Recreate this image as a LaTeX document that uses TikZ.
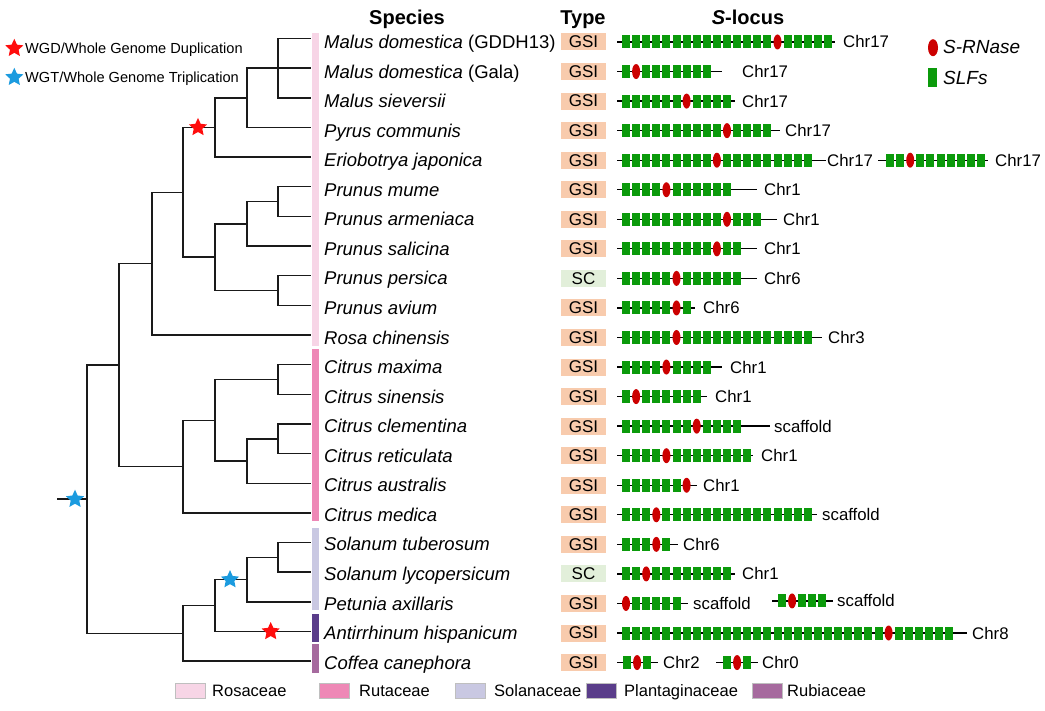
\documentclass[tikz,border=0pt]{standalone}
\usepackage{fontspec}
\setmainfont{Liberation Sans}
\usetikzlibrary{shapes.geometric}

\definecolor{slfgreen}{HTML}{0B9A0B}
\definecolor{rnasered}{HTML}{CC0000}
\definecolor{gsifill}{HTML}{F8CBAD}
\definecolor{scfill}{HTML}{E2EFDA}
\definecolor{rosaceae}{HTML}{F7D5E6}
\definecolor{rutaceae}{HTML}{EE88B6}
\definecolor{solanaceae}{HTML}{C9C8E2}
\definecolor{plantaginaceae}{HTML}{5A3D8A}
\definecolor{rubiaceae}{HTML}{A66A9E}
\definecolor{wgdred}{HTML}{FF0D0D}
\definecolor{wgtblue}{HTML}{1B9BDF}
\definecolor{treeline}{HTML}{1A1A1A}

\newcommand{\setfs}[1]{\fontsize{#1}{#1}\selectfont}

% S-locus track: name, y, line start, first element centre, SLFs before S-RNase,
% SLFs after S-RNase, line end, label x, label text
\newcommand{\locus}[9]{%
  \coordinate (#1s) at (#3,#2);
  \coordinate (#1e) at (#7,#2);
  \draw[locusline] (#1s) -- (#1e);
  \pgfmathtruncatemacro{\lastidx}{#5+#6}%
  \foreach \k in {0,...,\lastidx}{%
    \pgfmathsetmacro{\locx}{#4+\k*10.1}%
    \ifnum\k=#5\relax
      \node[srnase] at (\locx,#2) {};
    \else
      \node[slf] at (\locx,#2) {};
    \fi
  }%
  \node[chr] (#1l) at (#8,#2+6) {#9};
}

\tikzset{
  branch/.style={draw=treeline, line width=1.45pt, line cap=rect},
  species/.style={anchor=base west, inner sep=0pt, font=\setfs{18.5}\itshape},
  head/.style={anchor=base, inner sep=0pt, font=\setfs{20}\bfseries},
  typebox/.style={minimum width=45pt, minimum height=17pt, inner sep=0pt, font=\setfs{17}},
  gsi/.style={typebox, fill=gsifill},
  sc/.style={typebox, fill=scfill},
  locusline/.style={draw=black, line width=1.3pt},
  slf/.style={rectangle, fill=slfgreen, minimum width=8pt, minimum height=13pt, inner sep=0pt},
  srnase/.style={ellipse, fill=rnasered, minimum width=8pt, minimum height=15pt, inner sep=0pt},
  chr/.style={anchor=base west, inner sep=0pt, font=\setfs{16.8}},
  event/.style={star, star points=5, star point ratio=2.1, minimum size=19pt, inner sep=0pt},
  wgd/.style={event, fill=wgdred},
  wgt/.style={event, fill=wgtblue},
  swatch/.style={minimum width=30pt, minimum height=15pt, inner sep=0pt, draw=black!25, line width=0.4pt, anchor=west},
  famlabel/.style={anchor=base west, inner sep=0pt, font=\setfs{16.5}},
  keytext/.style={anchor=base west, inner sep=0pt, font=\setfs{14.6}},
}

\begin{document}
\begin{tikzpicture}[x=1pt,y=-1pt]
\useasboundingbox (0,0) rectangle (1045,711);
\fill[white] (0,0) rectangle (1045,711);

% ---------- column headers ----------
\node[head] (hsp) at (407,25) {Species};
\node[head] (hty) at (583,25) {Type};
\node[head] (hsl) at (748,25) {\textit{S}-locus};

% ---------- event key ----------
\node[wgd] (kwgd) at (14.3,48.3) {};
\node[keytext] (kwgdt) at (25,53.5) {WGD/Whole Genome Duplication};
\node[wgt] (kwgt) at (14.3,77.3) {};
\node[keytext] (kwgtt) at (25,82.5) {WGT/Whole Genome Triplication};

% ---------- gene key ----------
\node[srnase, minimum width=10pt, minimum height=17pt] (krn) at (933,47.7) {};
\node[anchor=base west, inner sep=0pt, font=\setfs{19}\itshape] (krnt) at (943,54) {S-RNase};
\node[slf, minimum width=9pt, minimum height=19pt] (kslf) at (932.5,77.5) {};
\node[anchor=base west, inner sep=0pt, font=\setfs{19}\itshape] (kslft) at (943,84.5) {SLFs};

% ---------- family bars ----------
\fill[rosaceae] (312,33) rectangle (319,345.7);
\fill[rutaceae] (312,349) rectangle (319,521);
\fill[solanaceae] (312,527.7) rectangle (319,610);
\fill[plantaginaceae] (312,614) rectangle (319,641.7);
\fill[rubiaceae] (312,644) rectangle (319,673);

% ---------- tree ----------
\foreach \i in {1,...,22}{
  \coordinate (L\i) at (310,{38.5+(\i-1)*29.65});
}
\coordinate (nMal) at (278,68.15);
\coordinate (nMP)  at (247,97.8);
\coordinate (nMPE) at (215,127.45);
\coordinate (nPa)  at (278,201.58);
\coordinate (nPb)  at (247,223.8);
\coordinate (nPc)  at (278,290.5);
\coordinate (nPd)  at (215,257.2);
\coordinate (nPyP) at (183,192.3);
\coordinate (nRos) at (152,263.7);
\coordinate (nCa)  at (278,379.5);
\coordinate (nCb)  at (278,438.8);
\coordinate (nCc)  at (247,461.0);
\coordinate (nCd)  at (215,420.25);
\coordinate (nCe)  at (183,466.6);
\coordinate (nRR)  at (119,365.1);
\coordinate (nSa)  at (278,557.4);
\coordinate (nSb)  at (247,579.6);
\coordinate (nSc)  at (215,605.6);
\coordinate (nSd)  at (183,633.4);
\coordinate (root) at (87,499.2);
\coordinate (stem) at (58,499.2);

\path[branch]
  (nMal) |- (L1)  (nMal) |- (L2)  (nMal) |- (L3)
  (nMP)  |- (nMal) (nMP) |- (L4)
  (nMPE) |- (nMP)  (nMPE) |- (L5)
  (nPa)  |- (L6)  (nPa) |- (L7)
  (nPb)  |- (nPa) (nPb) |- (L8)
  (nPc)  |- (L9)  (nPc) |- (L10)
  (nPd)  |- (nPb) (nPd) |- (nPc)
  (nPyP) |- (nMPE) (nPyP) |- (nPd)
  (nRos) |- (nPyP) (nRos) |- (L11)
  (nCa)  |- (L12) (nCa) |- (L13)
  (nCb)  |- (L14) (nCb) |- (L15)
  (nCc)  |- (nCb) (nCc) |- (L16)
  (nCd)  |- (nCa) (nCd) |- (nCc)
  (nCe)  |- (nCd) (nCe) |- (L17)
  (nRR)  |- (nRos) (nRR) |- (nCe)
  (nSa)  |- (L18) (nSa) |- (L19)
  (nSb)  |- (nSa) (nSb) |- (L20)
  (nSc)  |- (nSb) (nSc) |- (L21)
  (nSd)  |- (nSc) (nSd) |- (L22)
  (root) |- (nRR) (root) |- (nSd)
  (stem) -- (root);

\node[wgd] (ev1) at (198,127.45) {};
\node[wgt] (ev2) at (75,499.2) {};
\node[wgt] (ev3) at (230,579.6) {};
\node[wgd] (ev4) at (270.7,631.5) {};

% ---------- species names ----------
\node[species] (s1)  at (324,48.6)  {Malus domestica \textup{(GDDH13)}};
\node[species] (s2)  at (324,78.15) {Malus domestica \textup{(Gala)}};
\node[species] (s3)  at (324,107.7) {Malus sieversii};
\node[species] (s4)  at (324,137.25){Pyrus communis};
\node[species] (s5)  at (324,166.8) {Eriobotrya japonica};
\node[species] (s6)  at (324,196.35){Prunus mume};
\node[species] (s7)  at (324,225.9) {Prunus armeniaca};
\node[species] (s8)  at (324,255.45){Prunus salicina};
\node[species] (s9)  at (324,285.0) {Prunus persica};
\node[species] (s10) at (324,314.55){Prunus avium};
\node[species] (s11) at (324,344.1) {Rosa chinensis};
\node[species] (s12) at (324,373.65){Citrus maxima};
\node[species] (s13) at (324,403.2) {Citrus sinensis};
\node[species] (s14) at (324,432.75){Citrus clementina};
\node[species] (s15) at (324,462.3) {Citrus reticulata};
\node[species] (s16) at (324,491.85){Citrus australis};
\node[species] (s17) at (324,521.4) {Citrus medica};
\node[species] (s18) at (324,550.95){Solanum tuberosum};
\node[species] (s19) at (324,580.5) {Solanum lycopersicum};
\node[species] (s20) at (324,610.05){Petunia axillaris};
\node[species] (s21) at (324,639.6) {Antirrhinum hispanicum};
\node[species] (s22) at (324,669.15){Coffea canephora};

% ---------- mating type ----------
\foreach \i/\t/\lab in {1/gsi/GSI,2/gsi/GSI,3/gsi/GSI,4/gsi/GSI,5/gsi/GSI,6/gsi/GSI,
    7/gsi/GSI,8/gsi/GSI,9/sc/SC,10/gsi/GSI,11/gsi/GSI,12/gsi/GSI,13/gsi/GSI,
    14/gsi/GSI,15/gsi/GSI,16/gsi/GSI,17/gsi/GSI,18/gsi/GSI,19/sc/SC,20/gsi/GSI,
    21/gsi/GSI,22/gsi/GSI}{
  \pgfmathsetmacro{\ry}{42+(\i-1)*29.55}
  \node[\t] (ty\i) at (583.5,\ry) {\lab};
}

% ---------- S-locus tracks ----------
\locus{a}{42}{617}{626}{15}{5}{835}{843}{Chr17}
\locus{b}{71.55}{617}{626}{1}{7}{722}{742}{Chr17}
\locus{c}{101.1}{617}{626}{6}{4}{735}{742}{Chr17}
\locus{d}{130.65}{617}{626}{10}{4}{780}{785}{Chr17}
\locus{e}{160.2}{617}{626}{9}{9}{826}{827}{Chr17}
\locus{ee}{160.2}{878}{890}{2}{7}{988}{995}{Chr17}
\locus{f}{189.75}{617}{626}{4}{6}{757}{764}{Chr1}
\locus{g}{219.3}{617}{626}{10}{3}{777}{783}{Chr1}
\locus{h}{248.85}{617}{626}{9}{2}{757}{764}{Chr1}
\locus{i}{278.4}{617}{626}{5}{6}{757}{764}{Chr6}
\locus{j}{307.95}{617}{626}{5}{1}{695}{703}{Chr6}
\locus{k}{337.5}{617}{626}{5}{13}{822}{828}{Chr3}
\locus{l}{367.05}{617}{626}{4}{4}{722}{730}{Chr1}
\locus{m}{396.6}{617}{626}{1}{6}{707}{715}{Chr1}
\locus{n}{426.15}{617}{626}{7}{4}{770}{774}{scaffold}
\locus{o}{455.7}{617}{626}{4}{8}{753}{761}{Chr1}
\locus{p}{485.25}{617}{626}{6}{0}{697}{703}{Chr1}
\locus{q}{514.8}{617}{626}{3}{15}{817}{822}{scaffold}
\locus{r}{544.35}{617}{626}{3}{1}{678}{683}{Chr6}
\locus{s}{573.9}{617}{626}{2}{8}{735}{742}{Chr1}
\locus{t}{603.45}{617}{626}{0}{5}{688}{693}{scaffold}
\locus{tt}{600.95}{772}{782}{1}{3}{833}{837}{scaffold}
\locus{u}{633}{617}{626}{26}{6}{967}{972}{Chr8}
\locus{v}{662.55}{617}{627}{1}{1}{658}{663}{Chr2}
\locus{vv}{662.55}{716}{727}{1}{1}{758}{762}{Chr0}

% ---------- family key ----------
\node[swatch, fill=rosaceae] (fk1) at (175,690.5) {};
\node[famlabel] (fl1) at (212,696.5) {Rosaceae};
\node[swatch, fill=rutaceae] (fk2) at (319,690.5) {};
\node[famlabel] (fl2) at (359,696.5) {Rutaceae};
\node[swatch, fill=solanaceae] (fk3) at (455,690.5) {};
\node[famlabel] (fl3) at (494,696.5) {Solanaceae};
\node[swatch, fill=plantaginaceae] (fk4) at (586,690.5) {};
\node[famlabel] (fl4) at (624,696.5) {Plantaginaceae};
\node[swatch, fill=rubiaceae] (fk5) at (752,690.5) {};
\node[famlabel] (fl5) at (787,696.5) {Rubiaceae};
\end{tikzpicture}
\end{document}
